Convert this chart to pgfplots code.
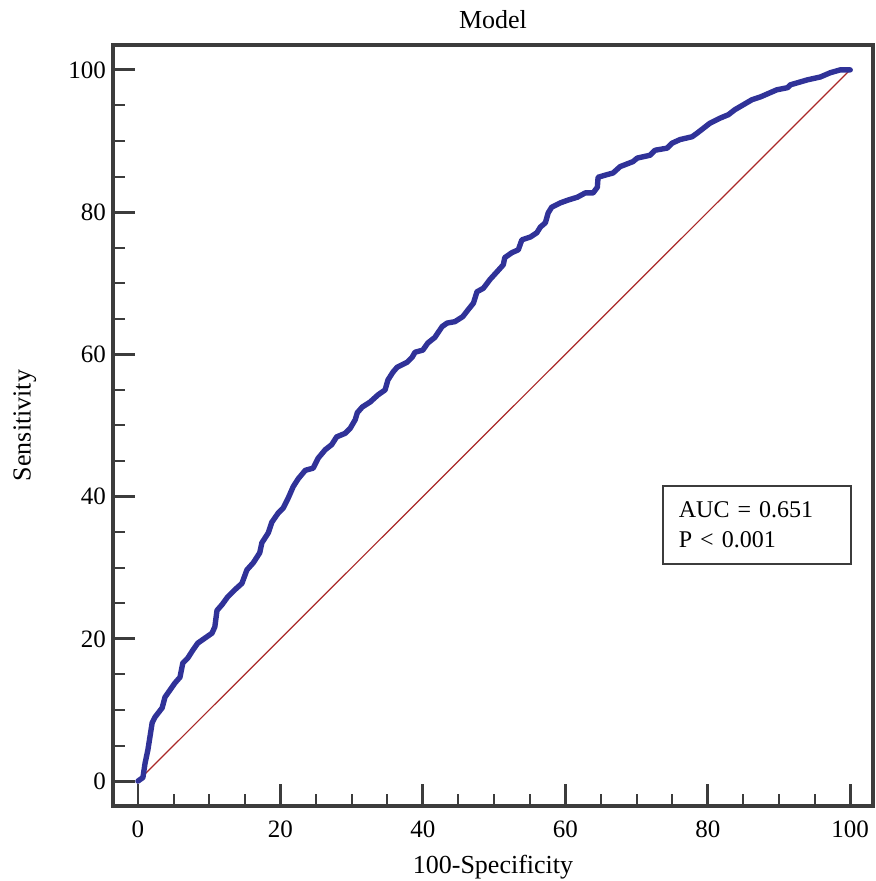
\documentclass[border=0pt]{standalone}
\usepackage{pgfplots}
\pgfplotsset{compat=1.18}
\usepackage{fontspec}
\setmainfont{Liberation Serif}

\definecolor{roc}{RGB}{48,50,152}
\definecolor{diag}{RGB}{170,40,40}
\definecolor{frame}{RGB}{60,60,60}

\begin{document}
\begin{tikzpicture}
\begin{axis}[
    scale only axis,
    width=380pt, height=380.5pt,
    xmin=-3.5, xmax=103.2,
    ymin=-3.5, ymax=103.5,
    xtick={0,20,...,100}, ytick={0,20,...,100},
    minor tick num=3,
    tick pos=left,
    tick align=inside,
    major tick length=11pt, minor tick length=6pt,
    axis line style={frame, line width=1.6pt},
    major tick style={frame, line width=1.4pt},
    minor tick style={frame, line width=1pt},
    /pgf/number format/assume math mode=true,
    ticklabel style={font=\fontsize{12.5}{14}\selectfont},
    xticklabel style={yshift=-4pt},
    every axis title shift=0pt,
    title={Model},
    title style={at={(axis description cs:0.5,1.033)}, anchor=center, inner sep=0pt, font=\fontsize{13}{15}\selectfont},
    xlabel={100-Specificity},
    xlabel style={at={(axis description cs:0.5,-0.080)}, anchor=center, inner sep=0pt, font=\fontsize{13}{15}\selectfont},
    ylabel={Sensitivity},
    ylabel style={at={(axis description cs:-0.116,0.5)}, anchor=center, inner sep=0pt, font=\fontsize{13}{15}\selectfont},
]

% chance line
\addplot[diag, line width=0.6pt] coordinates {(0,0) (100,100)};

% ROC curve of the model
\addplot[roc, line width=2.7pt, line join=round, line cap=round] coordinates {
(0,0) (0.7,0.5) (1.0,2.5) (1.4,4.4) (2.0,8.2) (2.4,9.0) (3.4,10.3) (3.8,11.8)
(4.5,12.8) (5.2,13.8) (5.9,14.6) (6.3,16.6) (7.0,17.3) (7.7,18.4) (8.4,19.4)
(9.4,20.1) (10.4,20.8) (10.8,21.7) (11.1,24.0) (11.8,24.8) (12.6,25.9) (13.6,26.9)
(14.6,27.8) (15.3,29.7) (16.2,30.7) (17.1,32.1) (17.4,33.5) (18.3,34.9) (18.8,36.4)
(19.7,37.7) (20.4,38.4) (21.1,39.8) (21.8,41.4) (22.5,42.5) (23.5,43.7) (24.6,44.0)
(25.3,45.4) (26.3,46.6) (27.2,47.3) (27.9,48.4) (29.1,48.9) (29.8,49.6) (30.5,50.8)
(30.8,51.8) (31.5,52.6) (32.6,53.3) (33.7,54.3) (34.7,55.0) (35.1,56.4) (35.8,57.5)
(36.4,58.2) (37.8,58.9) (38.5,59.6) (38.9,60.3) (40.0,60.6) (40.7,61.6) (41.7,62.4)
(42.7,63.9) (43.4,64.4) (44.5,64.6) (45.6,65.3) (46.3,66.2) (47.1,67.2) (47.6,68.8)
(48.5,69.3) (49.4,70.5) (50.4,71.6) (51.3,72.6) (51.5,73.6) (52.5,74.3) (53.4,74.7)
(53.9,76.1) (55.1,76.5) (56.0,77.1) (56.5,77.9) (57.2,78.5) (57.6,79.9) (58.1,80.7)
(59.3,81.3) (60.4,81.7) (61.7,82.1) (62.8,82.7) (63.9,82.7) (64.5,83.5) (64.6,84.9)
(65.6,85.2) (66.7,85.5) (67.7,86.4) (69.5,87.1) (70.1,87.6) (71.9,88.0) (72.6,88.7)
(74.3,89.0) (75.0,89.7) (76.1,90.2) (77.8,90.6) (78.5,91.1) (79.4,91.8) (80.3,92.5)
(81.7,93.2) (82.9,93.7) (83.8,94.4) (85.0,95.1) (86.2,95.8) (87.4,96.2) (89.7,97.2)
(91.2,97.5) (91.6,97.9) (94.0,98.6) (95.8,99.0) (97.2,99.6) (98.6,100) (100,100)
};

% AUC box
\node[draw=frame, line width=1.1pt, fill=white, align=left,
      inner xsep=8pt, text width=78pt, minimum height=39pt,
      font=\fontsize{12}{15}\selectfont]
  at (axis cs:86.9,36.0) {AUC = 0.651\\P < 0.001};
\end{axis}
% keep the page margins of the reference
\path ([xshift=-56.5pt,yshift=-37.5pt]current axis.south west)
  rectangle ([xshift=0.8pt,yshift=22.5pt]current axis.north east);
\end{tikzpicture}
\end{document}
